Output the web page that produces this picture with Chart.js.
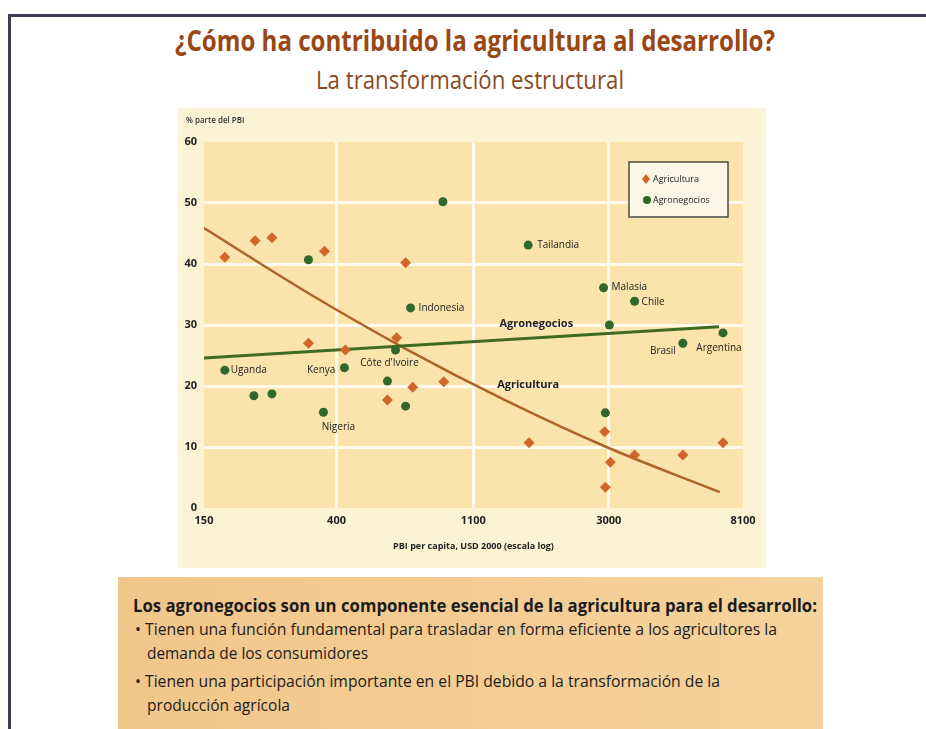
<!DOCTYPE html>
<html>
<head>
<meta charset="utf-8">
<script src="https://cdn.jsdelivr.net/npm/chart.js@4"></script>
<style>
  body { margin: 0; width: 926px; height: 729px; background: #fff; position: relative; overflow: hidden; font-family: "Open Sans", sans-serif; }
  .frame-top { position: absolute; left: 8px; right: 0; top: 14px; height: 3px; background: #3d3d52; }
  .frame-left { position: absolute; left: 8px; top: 14px; bottom: 0; width: 3px; background: #3d3d52; }
  .txt { position: absolute; white-space: nowrap; display: inline-block; transform-origin: left center; line-height: 20px; }
  .title { font-weight: bold; font-size: 28px; line-height: 32px; color: #9a4716; }
  .subtitle { font-size: 26px; line-height: 30px; color: #8a4a24; }
  .panel { position: absolute; left: 178px; top: 108px; width: 588px; height: 460px; background: #fcf2d4; }
  .box { position: absolute; left: 118px; top: 577px; width: 705px; height: 160px; background: linear-gradient(90deg, #f2c68a, #f5d39d); }
  .box-text { color: #1c1c1c; font-size: 17px; }
  .box-head { font-weight: bold; font-size: 17px; }
</style>
</head>
<body>
<div class="frame-top"></div>
<div class="frame-left"></div>

<span class="txt title" style="left:175px; top:24px" data-w="600">¿Cómo ha contribuido la agricultura al desarrollo?</span>
<span class="txt subtitle" style="left:316px; top:64px" data-w="308">La transformación estructural</span>

<div class="panel"><canvas id="chart"></canvas></div>

<div class="box"></div>
<span class="txt box-text box-head" style="left:133px; top:596px" data-w="684">Los agronegocios son un componente esencial de la agricultura para el desarrollo:</span>
<span class="txt box-text" style="left:135px; top:619px" data-w="642">• Tienen una función fundamental para trasladar en forma eficiente a los agricultores la</span>
<span class="txt box-text" style="left:147px; top:643px" data-w="221">demanda de los consumidores</span>
<span class="txt box-text" style="left:135px; top:671px" data-w="585">• Tienen una participación importante en el PBI debido a la transformación de la</span>
<span class="txt box-text" style="left:147px; top:695px" data-w="143">producción agrícola</span>

<script>
// squeeze the text blocks to the widths of the original slide
document.querySelectorAll('[data-w]').forEach(el => {
    const w = el.getBoundingClientRect().width;
    el.style.transform = 'scaleX(' + (el.dataset.w / w) + ')';
});

// axis ticks
const xTicks = [150, 400, 1100, 3000, 8100];
const yTicks = [0, 10, 20, 30, 40, 50, 60];

// Agricultura (% del PBI) by PBI per capita
const agriX = [175, 219, 248, 366, 667, 325, 427, 624, 703, 885, 583, 1663, 2910, 3036, 2925, 3631, 5190, 6985];
const agriY = [41.1, 43.8, 44.3, 42.1, 40.2, 27.0, 25.9, 27.9, 19.8, 20.7, 17.7, 10.7, 12.5, 7.5, 3.4, 8.7, 8.7, 10.7];

// Agronegocios (% del PBI) by PBI per capita
const agroX = [175, 217, 248, 325, 363, 424, 583, 619, 667, 692, 879, 1652, 2886, 2925, 3013, 3631, 5190, 6985];
const agroY = [22.6, 18.4, 18.7, 40.7, 15.7, 23.0, 20.8, 25.9, 16.7, 32.8, 50.2, 43.1, 36.1, 15.6, 30.0, 33.9, 27.0, 28.7];

// fitted trend lines
const agriTrendX = [150, 318, 667, 1403, 2948, 6820];
const agriTrendY = [45.9, 35.5, 26.1, 17.6, 10.0, 2.6];
const agroTrendX = [150, 6780];
const agroTrendY = [24.6, 29.7];

// country names for agronegocios points (index into agroX / agroY)
const countryNames = ['Uganda', 'Nigeria', 'Kenya', "Côte d'Ivoire", 'Indonesia', 'Tailandia', 'Malasia', 'Chile', 'Brasil', 'Argentina'];
const countryIndex = [0, 4, 5, 7, 9, 11, 12, 15, 16, 17];

// names written along the trend lines
const lineNames = ['Agronegocios', 'Agricultura'];
const lineNameX = [1754, 1652];
const lineNameY = [30.2, 20.2];

const ORANGE = '#d2662a';
const GREEN = '#2f682b';
const AGRI_LINE = '#ad6329';
const AGRO_LINE = '#3f6a22';

// where each country name sits relative to its point (px)
const labelPlacement = {
    'Uganda': { dx: 6, dy: 0, align: 'left' },
    'Nigeria': { dx: 15, dy: 15, align: 'center' },
    'Kenya': { dx: -9, dy: 2, align: 'right' },
    "Côte d'Ivoire": { dx: -6, dy: 13, align: 'center' },
    'Indonesia': { dx: 8, dy: 0, align: 'left' },
    'Tailandia': { dx: 9, dy: 0, align: 'left' },
    'Malasia': { dx: 8, dy: -1, align: 'left' },
    'Chile': { dx: 7, dy: 1, align: 'left' },
    'Brasil': { dx: -7, dy: 8, align: 'right' },
    'Argentina': { dx: -4, dy: 15, align: 'center' }
};

const FONT = '"Open Sans", sans-serif';
Chart.defaults.font.family = FONT;
Chart.defaults.color = '#222';

function toPoints(xs, ys) {
    return xs.map((x, i) => ({ x: x, y: ys[i] }));
}

// plot background, legend box and text annotations
const decorPlugin = {
    id: 'decor',
    beforeDraw(chart) {
        const { ctx, chartArea: a } = chart;
        ctx.save();
        ctx.fillStyle = '#fbe4ab';
        ctx.fillRect(a.left, a.top, a.right - a.left, a.bottom - a.top);
        ctx.restore();
    },
    afterDraw(chart) {
        const { ctx, chartArea: a } = chart;
        const xs = chart.scales.x, ys = chart.scales.y;
        ctx.save();

        // y axis caption
        ctx.fillStyle = '#333';
        ctx.font = '600 8px ' + FONT;
        ctx.textAlign = 'left';
        ctx.textBaseline = 'middle';
        ctx.fillText('% parte del PBI', 8, 13);

        // country labels
        ctx.font = '10px ' + FONT;
        ctx.fillStyle = '#222';
        countryNames.forEach((name, i) => {
            const k = countryIndex[i];
            const p = labelPlacement[name];
            const px = xs.getPixelForValue(agroX[k]);
            const py = ys.getPixelForValue(agroY[k]);
            ctx.textAlign = p.align;
            ctx.fillText(name, px + p.dx, py + p.dy);
        });

        // trend line names
        ctx.font = 'bold 11px ' + FONT;
        ctx.textAlign = 'center';
        lineNames.forEach((name, i) => {
            ctx.fillText(name, xs.getPixelForValue(lineNameX[i]), ys.getPixelForValue(lineNameY[i]));
        });

        // legend
        const bx = a.right - 114, by = a.top + 20, bw = 99, bh = 55;
        ctx.fillStyle = '#fdf6e6';
        ctx.fillRect(bx, by, bw, bh);
        ctx.strokeStyle = '#4a4a40';
        ctx.lineWidth = 1.5;
        ctx.strokeRect(bx, by, bw, bh);

        ctx.fillStyle = ORANGE;
        ctx.beginPath();
        ctx.moveTo(bx + 17, by + 12);
        ctx.lineTo(bx + 21, by + 17);
        ctx.lineTo(bx + 17, by + 22);
        ctx.lineTo(bx + 13, by + 17);
        ctx.closePath();
        ctx.fill();

        ctx.fillStyle = GREEN;
        ctx.beginPath();
        ctx.arc(bx + 18, by + 38, 4, 0, Math.PI * 2);
        ctx.fill();

        ctx.fillStyle = '#222';
        ctx.font = '9px ' + FONT;
        ctx.textAlign = 'left';
        ctx.fillText('Agricultura', bx + 24, by + 17);
        ctx.fillText('Agronegocios', bx + 24, by + 38);
        ctx.restore();
    }
};

function gridColor(ctx) {
    const last = ctx.scale.ticks.length - 1;
    return (ctx.index === 0 || ctx.index === last) ? 'rgba(0,0,0,0)' : '#fff9ef';
}

new Chart(document.getElementById('chart'), {
    type: 'scatter',
    data: {
        datasets: [
            {
                label: 'Agricultura (tendencia)',
                type: 'line',
                data: toPoints(agriTrendX, agriTrendY),
                borderColor: AGRI_LINE,
                borderWidth: 2.5,
                pointRadius: 0,
                tension: 0.4,
                fill: false,
                order: 3
            },
            {
                label: 'Agronegocios (tendencia)',
                type: 'line',
                data: toPoints(agroTrendX, agroTrendY),
                borderColor: AGRO_LINE,
                borderWidth: 3,
                pointRadius: 0,
                fill: false,
                order: 2
            },
            {
                label: 'Agricultura',
                data: toPoints(agriX, agriY),
                pointStyle: 'rectRot',
                pointRadius: 5.5,
                backgroundColor: ORANGE,
                borderColor: ORANGE,
                borderWidth: 0,
                order: 1
            },
            {
                label: 'Agronegocios',
                data: toPoints(agroX, agroY),
                pointStyle: 'circle',
                pointRadius: 4.5,
                backgroundColor: GREEN,
                borderColor: GREEN,
                borderWidth: 0,
                order: 0
            }
        ]
    },
    options: {
        responsive: true,
        maintainAspectRatio: false,
        animation: false,
        layout: { padding: { left: 0, top: 34, right: 23, bottom: 0 } },
        plugins: {
            legend: { display: false },
            tooltip: { enabled: false }
        },
        scales: {
            x: {
                type: 'logarithmic',
                min: 150,
                max: 8100,
                afterBuildTicks: scale => { scale.ticks = xTicks.map(v => ({ value: v })); },
                afterFit: scale => {
                    scale.height = 60;
                    scale.paddingLeft = 0;
                    scale.paddingRight = 0;
                },
                grid: { color: gridColor, lineWidth: 3, drawTicks: false },
                border: { display: false },
                ticks: {
                    padding: 6,
                    font: { size: 11, weight: 'bold' },
                    callback: value => String(value),
                    maxRotation: 0,
                    autoSkip: false
                },
                title: {
                    display: true,
                    text: 'PBI per capita, USD 2000 (escala log)',
                    font: { size: 9, weight: 'bold' },
                    padding: { top: 0, bottom: 16 }
                }
            },
            y: {
                min: 0,
                max: 60,
                afterBuildTicks: scale => { scale.ticks = yTicks.map(v => ({ value: v })); },
                afterFit: scale => { scale.width = 26; },
                grid: { color: gridColor, lineWidth: 3, drawTicks: false },
                border: { display: false },
                ticks: {
                    padding: 7,
                    font: { size: 11, weight: 'bold' }
                }
            }
        }
    },
    plugins: [decorPlugin]
});
</script>
</body>
</html>
